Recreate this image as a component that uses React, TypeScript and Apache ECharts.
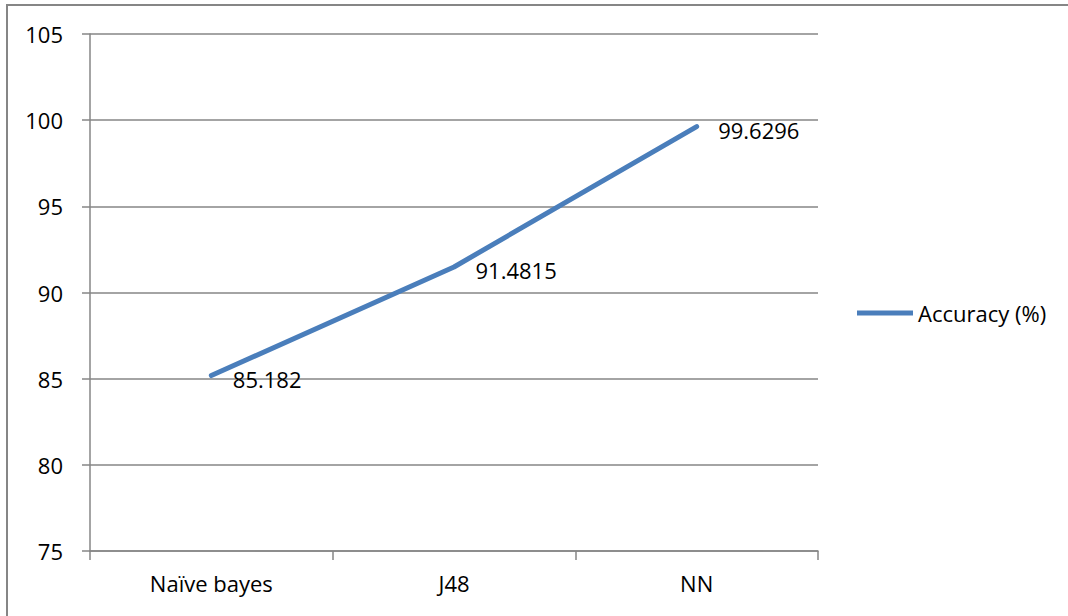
import React, { useEffect, useRef } from "react";
import * as echarts from "echarts";

const categories = ["Naïve bayes", "J48", "NN"];
const accuracy = [85.182, 91.4815, 99.6296];
const seriesName = "Accuracy (%)";

const FONT = "'Open Sans', 'Liberation Sans', sans-serif";
const GRAY = "#868686";
const BLUE = "#4A7EBB";
const FS = 22;

export default function App() {
  const ref = useRef<HTMLDivElement>(null);
  useEffect(() => {
    if (!ref.current) return;
    const chart = echarts.init(ref.current, undefined, { renderer: "svg" });
    chart.setOption({
      animation: false,
      backgroundColor: "#ffffff",
      textStyle: { fontFamily: FONT },
      graphic: [
        {
          type: "rect",
          shape: { x: 7, y: 5, width: 1200, height: 800 },
          style: { fill: "none", stroke: GRAY, lineWidth: 2 },
          silent: true,
        },
      ],
      grid: { left: 90, top: 34, right: 250, bottom: 65 },
      legend: {
        data: [seriesName],
        left: 852,
        top: 297,
        icon: "rect",
        itemWidth: 56,
        itemHeight: 5,
        textStyle: { fontFamily: FONT, fontSize: FS, color: "#000" },
        itemStyle: { color: BLUE },
      },
      xAxis: {
        type: "category",
        data: categories,
        boundaryGap: true,
        axisLine: { lineStyle: { color: GRAY, width: 1.5 } },
        axisTick: { show: true, length: 9, lineStyle: { color: GRAY, width: 1.5 } },
        axisLabel: { color: "#000", fontFamily: FONT, fontSize: FS, margin: 21 },
        splitLine: { show: false },
      },
      yAxis: {
        type: "value",
        min: 75,
        max: 105,
        interval: 5,
        axisLine: { show: true, lineStyle: { color: GRAY, width: 1.5 } },
        axisTick: { show: true, length: 8, lineStyle: { color: GRAY, width: 1.5 } },
        axisLabel: { color: "#000", fontFamily: FONT, fontSize: FS, margin: 27 },
        splitLine: { show: true, lineStyle: { color: GRAY, width: 1.5 } },
      },
      series: [
        {
          name: seriesName,
          type: "line",
          data: accuracy,
          symbol: "circle",
          symbolSize: 1,
          itemStyle: { color: BLUE },
          lineStyle: { color: BLUE, width: 5, cap: "round", join: "round" },
          label: {
            show: true,
            position: "right",
            distance: 21,
            offset: [0, 3],
            color: "#000",
            fontFamily: FONT,
            fontSize: FS,
          },
        },
      ],
    });
    return () => chart.dispose();
  }, []);
  return (
    <div
      ref={ref}
      style={{ position: "fixed", left: 0, top: 0, width: 1068, height: 616 }}
    />
  );
}
